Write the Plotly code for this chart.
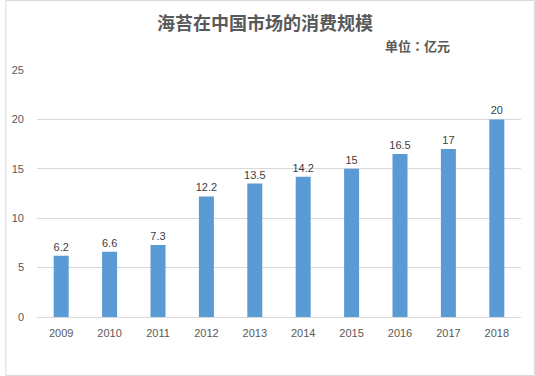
import plotly.graph_objects as go

years = ["2009", "2010", "2011", "2012", "2013", "2014", "2015", "2016", "2017", "2018"]
values = [6.2, 6.6, 7.3, 12.2, 13.5, 14.2, 15, 16.5, 17, 20]
labels = ["6.2", "6.6", "7.3", "12.2", "13.5", "14.2", "15", "16.5", "17", "20"]

W, H = 535, 376
L, R, T, B = 32, 14, 70, 59
pw, ph = W - L - R, H - T - B

fig = go.Figure(go.Bar(
    x=years, y=values, text=labels, textposition="outside",
    textfont=dict(size=11, color="#404040", family="Liberation Sans, Arial"),
    marker=dict(color="#5B9BD5", line=dict(width=0)),
    width=0.31, cliponaxis=False,
))

def px(x): return (x - L) / pw
def py(y): return 1 - (y - T) / ph

fig.update_layout(
    width=W, height=H,
    margin=dict(l=L, r=R, t=T, b=B),
    paper_bgcolor="white", plot_bgcolor="white",
    showlegend=False,
    uniformtext=dict(minsize=11, mode="show"),
    font=dict(family="Liberation Sans, Arial", size=11, color="#595959"),
    xaxis=dict(type="category", showgrid=False, showline=True, linecolor="#D9D9D9",
               linewidth=1, ticks="", ticklabelstandoff=6,
               tickfont=dict(size=11, color="#595959")),
    yaxis=dict(range=[0, 25], dtick=5, showgrid=True, gridcolor="#D9D9D9", gridwidth=1,
               zeroline=False, showline=False, ticks="", ticklabelstandoff=12,
               tickfont=dict(size=11, color="#595959")),
    annotations=[
        dict(text="<b>海苔在中国市场的消费规模</b>", x=px(262), y=py(22), xref="paper", yref="paper",
             showarrow=False, xanchor="center", yanchor="middle",
             font=dict(size=18, color="#595959", family="Noto Sans CJK SC")),
        dict(text="<b>单位：亿元</b>", x=px(416), y=py(46), xref="paper", yref="paper",
             showarrow=False, xanchor="center", yanchor="middle",
             font=dict(size=13, color="#595959", family="Noto Sans CJK TC")),
    ],
    shapes=[dict(type="rect", xref="paper", yref="paper",
                 x0=px(0.5), x1=px(534.5), y0=py(375.5), y1=py(0.5),
                 line=dict(color="#D9D9D9", width=1))],
)

fig.write_html("out.html", config={"displayModeBar": False},
               post_script="document.body.style.margin='0';document.body.style.overflow='hidden';")
